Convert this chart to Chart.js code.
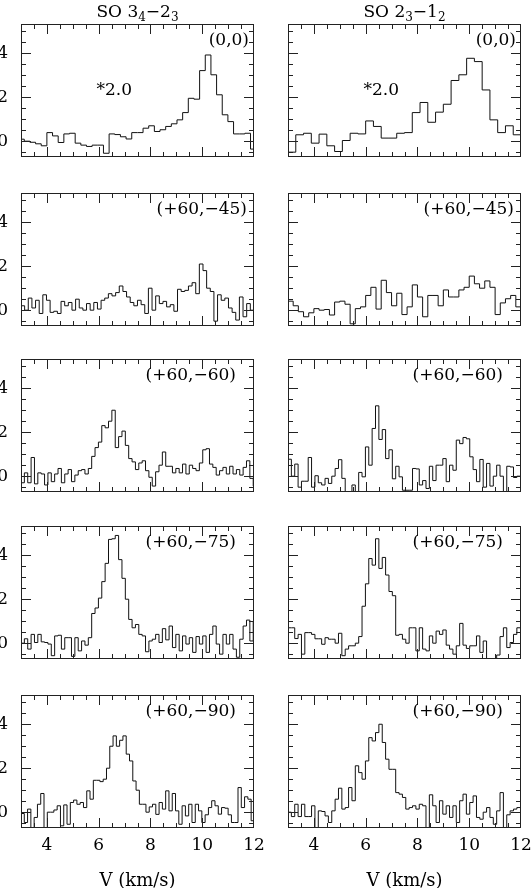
<!DOCTYPE html>
<html>
<head>
<meta charset="utf-8">
<script src="https://cdn.jsdelivr.net/npm/chart.js@4"></script>
<style>
  html, body { margin: 0; padding: 0; background: #fff; width: 531px; height: 888px; overflow: hidden; }
  canvas { position: absolute; }
</style>
</head>
<body>
<script>
// ---- data (T) ----
const positions = ["(0,0)", "(+60,\u221245)", "(+60,\u221260)", "(+60,\u221275)", "(+60,\u221290)"];
const scaleNote = "*2.0";
const xTicks = [4, 6, 8, 10, 12];
const yTicks = [0, 2, 4];

// SO 3_4-2_3 : first channel edge and channel width per offset
const so34Start = [2.9075, 3.0, 3.0, 3.0, 3.0];
const so34Width = [0.2185, 0.1406, 0.13, 0.13, 0.127];
const so34_00 = [0.09, 0.0, -0.05, -0.12, -0.21, 0.39, 0.24, -0.06, 0.33, 0.36, -0.09, -0.18, -0.24, -0.18, -0.18, -0.55, 0.33, 0.3, 0.2, 0.1, 0.39, 0.39, 0.59, 0.7, 0.44, 0.52, 0.67, 0.79, 0.97, 1.3, 1.95, 1.91, 3.21, 3.92, 3.02, 2.11, 1.2, 0.89, 0.33, 0.33, 0.36, -0.36];
const so34_45 = [0.2, 0.0, 0.55, 0.1, 0.45, -0.15, 0.7, 0.45, -0.1, -0.05, -0.15, 0.4, 0.2, 0.35, 0.0, 0.5, 0.1, 0.0, 0.3, 0.0, 0.35, 0.05, 0.45, 0.55, 0.75, 0.65, 0.8, 1.1, 0.85, 0.6, 0.35, 0.2, 0.45, 0.25, -0.15, 1.0, 0.0, 0.65, 0.3, 0.4, 0.15, 0.25, -0.05, 0.95, 0.85, 0.9, 1.1, 1.25, 0.75, 2.1, 1.8, 1.0, 0.85, -0.5, 0.7, 0.45, 0.55, 0.1, -0.1, -0.45, 0.6, -0.3, 0.3, 0.0];
const so34_60 = [-0.3, 0.15, -0.3, 0.85, -0.35, 0.15, 0.1, -0.4, 0.15, -0.25, 0.1, 0.35, -0.3, 0.1, 0.3, -0.25, 0.05, 0.25, 0.3, 0.1, 0.35, 0.9, 1.3, 1.55, 2.3, 2.2, 2.5, 3.0, 1.3, 1.8, 2.05, 1.4, 0.8, 0.65, 0.3, 0.6, 0.7, 0.25, -0.05, -0.45, 0.2, 0.5, 1.1, 0.45, 0.45, 0.15, 0.35, 0.15, 0.55, 0.1, 0.5, 0.35, 0.25, 0.6, 1.2, 1.25, 0.55, 0.4, 0.05, 0.25, 0.4, 0.1, 0.45, 0.1, 0.3, 0.05, 0.4, 0.7, -0.1, -0.45];
const so34_75 = [0.0, 0.2, -0.27, 0.4, 0.03, 0.4, 0.06, 0.03, -0.04, -0.57, 0.33, 0.36, -0.27, 0.25, 0.25, -0.6, 0.25, -0.35, 0.1, -0.09, 0.25, 1.35, 1.6, 2.05, 2.8, 3.63, 4.72, 4.75, 4.9, 3.8, 2.95, 2.0, 1.08, 0.7, 0.85, 0.4, 0.33, -0.39, 0.1, 0.18, 0.4, 0.03, 0.66, 0.15, 0.78, -0.2, 0.4, -0.35, 0.33, -0.04, 0.25, -0.42, 0.3, -0.04, 0.33, -0.42, 0.4, 0.78, -0.04, -0.5, 0.4, -0.04, 0.4, -0.27, -0.64, 0.18, 0.78, 1.05, 0.1, 1.0, 0.0];
const so34_90 = [-0.06, -0.47, 0.14, -0.7, -0.24, 0.36, 0.85, -0.73, 0.0, 0.0, 0.1, 0.29, -0.62, 0.33, -0.55, 0.44, 0.55, 0.36, 0.44, 0.21, 0.97, 0.59, 1.45, 1.45, 1.39, 1.5, 2.0, 3.0, 3.47, 3.0, 3.27, 3.47, 2.64, 2.33, 1.42, 1.0, 0.36, 0.36, 0.0, 0.24, 0.36, -0.1, 0.44, 0.14, 0.97, 0.06, 0.85, 0.06, -0.55, 0.29, -0.17, 0.36, -0.47, 0.36, 0.06, -0.47, -0.12, 0.21, 0.52, 0.29, -0.09, 0.21, 0.18, -0.12, -0.47, -0.47, 1.12, 0.21, 0.7, 0.59, -0.39];

// SO 2_3-1_2
const so23Start = [3.0, 3.0, 3.0, 3.0, 3.0];
const so23Width = [0.3, 0.2, 0.13, 0.13, 0.13];
const so23_00 = [-0.5, 0.29, 0.36, -0.09, 0.32, -0.21, -0.47, 0.03, 0.36, 0.33, 0.92, 0.67, 0.14, 0.14, 0.36, 0.39, 1.3, 1.76, 0.86, 1.32, 1.68, 2.76, 3.02, 3.77, 3.62, 2.33, 0.97, 0.39, 0.7, 0.29];
const so23_45 = [0.41, 0.2, -0.07, -0.3, -0.12, 0.07, 0.0, 0.03, -0.22, 0.37, 0.41, 0.27, -0.62, 0.07, 0.15, 0.67, 1.04, 0.05, 1.36, 0.8, 0.2, 0.77, -0.2, 0.15, 1.15, 0.6, -0.3, 0.67, 0.67, 0.2, 0.92, 0.6, 0.6, 0.92, 1.04, 1.55, 1.2, 1.0, 1.33, 1.04, -0.2, 0.33, 0.52, 0.67, 0.15];
const so23_60 = [0.77, 0.0, 0.55, -0.5, -0.23, -0.23, 0.85, -0.5, 0.02, -0.3, -0.4, -0.1, -0.33, 0.0, 0.35, 0.75, -0.1, -0.8, -0.8, -0.4, -0.8, 0.17, -0.03, 1.33, 0.5, 2.17, 3.2, 1.67, 2.12, 0.8, 1.2, -0.12, 0.45, -0.03, -0.64, -0.64, -0.64, 0.35, 0.33, -0.4, -0.2, -0.56, 0.45, -0.2, 0.5, 0.5, 0.8, -0.25, 0.5, 0.27, 1.64, 1.48, 1.76, 1.7, 0.88, 0.3, -0.25, 0.76, -0.5, 0.58, -0.45, 0.0, 0.5, 0.0, -0.75, 0.45, 0.42, -0.06, 0.0];
const so23_75 = [0.7, 0.7, 0.21, 0.4, -0.5, 0.48, 0.48, 0.4, 0.2, 0.2, -0.05, 0.25, 0.18, 0.18, 0.0, 0.45, -0.57, -0.27, -0.12, -0.12, 0.0, 0.3, 1.68, 2.7, 3.85, 3.55, 4.75, 3.4, 3.9, 3.1, 2.35, 2.16, 0.36, 0.4, 0.18, 0.0, 0.7, 0.7, -0.35, 0.7, -0.27, -0.35, 0.33, 0.0, 0.55, 0.4, 0.6, -0.09, -0.27, -0.5, -0.12, 0.9, -0.09, -0.24, -0.12, -0.12, 0.33, -0.42, 0.1, -0.72, -0.75, -0.75, -0.54, 0.3, 0.7, -0.2, 0.03, 0.4, 0.7, 0.7];
const so23_90 = [0.0, -0.2, 0.36, -0.2, 0.36, -0.2, -0.2, 0.29, -0.7, 0.06, 0.03, -0.17, -0.47, 0.06, 0.59, 1.09, 0.14, 0.21, 1.12, 0.52, 2.11, 1.8, 1.5, 2.33, 3.39, 3.24, 3.62, 4.0, 3.17, 2.41, 1.95, 1.95, 0.89, 0.82, 0.67, 0.14, 0.21, 0.29, 0.14, 0.36, 0.29, -0.73, 0.79, 0.29, -0.47, 0.52, -0.09, 0.29, -0.24, 0.29, -0.47, 0.52, 0.82, -0.09, 0.44, 0.74, -0.24, -0.32, 0.0, 0.21, -0.24, -0.55, 0.06, 0.89, -0.73, -0.12, 0.06, 0.14, 0.21];

const titles = [
  [["SO 3", false], ["4", true], ["\u22122", false], ["3", true]],
  [["SO 2", false], ["3", true], ["\u22121", false], ["2", true]]
];

// ---- layout ----
const FONT = "'DejaVu Serif', serif";
const colX = [21, 288];
const rowY = [24, 193, 359, 526, 695];
const panelW = 233, panelH = 133;
const labelInset = [5, 7, 18, 18, 18];

Chart.defaults.font.family = FONT;
Chart.defaults.color = "#000";

const columns = [
  { start: so34Start, width: so34Width, series: [so34_00, so34_45, so34_60, so34_75, so34_90] },
  { start: so23Start, width: so23Width, series: [so23_00, so23_45, so23_60, so23_75, so23_90] }
];

function steps(values, v0, dv) {
  const pts = values.map((y, i) => ({ x: v0 + i * dv, y }));
  pts.push({ x: v0 + values.length * dv, y: values[values.length - 1] });
  return pts;
}

function decor(r, c) {
  return {
    id: "decor" + r + c,
    afterDatasetsDraw(chart) {
      const { ctx, chartArea: a, scales: { x, y } } = chart;
      ctx.save();
      ctx.strokeStyle = "#222";
      ctx.lineWidth = 1;
      ctx.strokeRect(a.left + 0.5, a.top + 0.5, a.right - a.left - 1, a.bottom - a.top - 1);
      ctx.beginPath();
      for (let i = 7; i <= 23; i++) {
        const v = i / 2;
        const px = Math.round(x.getPixelForValue(v)) + 0.5;
        const len = xTicks.includes(v) ? 10 : 5;
        ctx.moveTo(px, a.top); ctx.lineTo(px, a.top + len);
        ctx.moveTo(px, a.bottom); ctx.lineTo(px, a.bottom - len);
      }
      for (let i = -1; i <= 10; i++) {
        const v = i / 2;
        const py = Math.round(y.getPixelForValue(v)) + 0.5;
        const len = yTicks.includes(v) ? 10 : 5;
        ctx.moveTo(a.left, py); ctx.lineTo(a.left + len, py);
        ctx.moveTo(a.right, py); ctx.lineTo(a.right - len, py);
      }
      ctx.stroke();

      ctx.fillStyle = "#000";
      ctx.font = "17px " + FONT;
      ctx.textAlign = "right";
      ctx.textBaseline = "middle";
      ctx.fillText(positions[r], a.right - labelInset[r], a.top + 17);

      if (r === 0) {
        ctx.textAlign = "center";
        ctx.fillText(scaleNote, x.getPixelForValue(6.6), y.getPixelForValue(2.3));

        // line title with subscripts
        const parts = titles[c];
        const fontFor = sub => (sub ? "12px " : "17px ") + FONT;
        let w = 0;
        parts.forEach(([t, sub]) => { ctx.font = fontFor(sub); w += ctx.measureText(t).width; });
        let tx = (a.left + a.right) / 2 - w / 2;
        ctx.textAlign = "left";
        ctx.textBaseline = "alphabetic";
        parts.forEach(([t, sub]) => {
          ctx.font = fontFor(sub);
          ctx.fillText(t, tx, sub ? 21 : 17);
          tx += ctx.measureText(t).width;
        });
      }
      ctx.restore();
    }
  };
}

function makePanel(r, c) {
  const bottomRow = r === 4;
  const padT = 24;
  const padB = bottomRow ? 61 : 24;
  const padL = c === 0 ? 21 : 4;
  const padR = 20;
  const canvas = document.createElement("canvas");
  canvas.width = padL + panelW + padR;
  canvas.height = padT + panelH + padB;
  canvas.style.left = (colX[c] - padL) + "px";
  canvas.style.top = (rowY[r] - padT) + "px";
  document.body.appendChild(canvas);

  const col = columns[c];
  new Chart(canvas, {
    type: "line",
    data: {
      datasets: [{
        data: steps(col.series[r], col.start[r], col.width[r]),
        borderColor: "#111",
        borderWidth: 1,
        pointRadius: 0,
        stepped: "before",
        fill: false
      }]
    },
    options: {
      responsive: false,
      animation: false,
      events: [],
      layout: { padding: { top: padT, bottom: bottomRow ? 0 : padB, left: c === 0 ? 0 : padL, right: padR } },
      plugins: { legend: { display: false }, tooltip: { enabled: false } },
      scales: {
        x: {
          type: "linear",
          min: 3,
          max: 12,
          display: bottomRow,
          grid: { display: false, drawTicks: false },
          border: { display: false },
          ticks: { padding: 7, font: { size: 17 }, color: "#000", maxRotation: 0, autoSkip: false },
          afterBuildTicks: s => { s.ticks = xTicks.map(v => ({ value: v })); },
          afterFit: s => { s.height = bottomRow ? 61 : 0; },
          title: { display: true, text: "V (km/s)", font: { size: 18 }, color: "#000", padding: { top: 0, bottom: -3 } }
        },
        y: {
          type: "linear",
          min: -0.72,
          max: 5.33,
          display: c === 0,
          grid: { display: false, drawTicks: false },
          border: { display: false },
          ticks: { padding: 13, font: { size: 17 }, color: "#000" },
          afterBuildTicks: s => { s.ticks = yTicks.map(v => ({ value: v })); },
          afterFit: s => { s.width = c === 0 ? 21 : 0; }
        }
      }
    },
    plugins: [decor(r, c)]
  });
}

for (let r = 0; r < 5; r++) {
  for (let c = 0; c < 2; c++) makePanel(r, c);
}
</script>
</body>
</html>
